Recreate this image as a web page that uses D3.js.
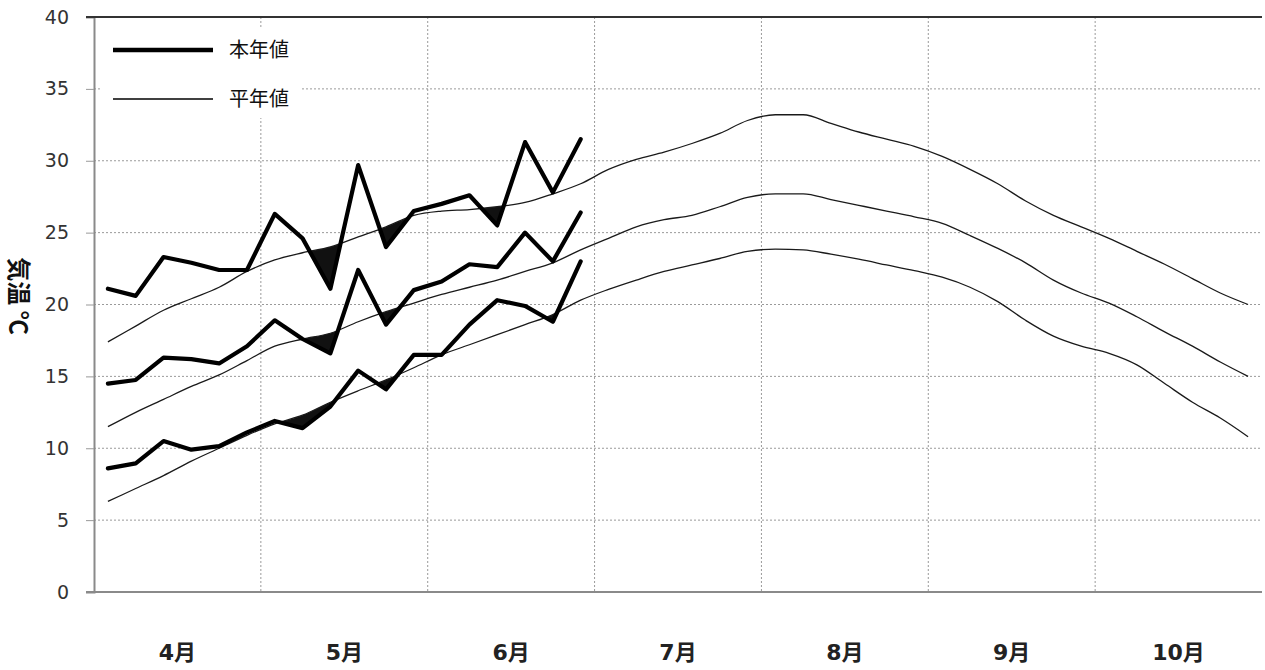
<!DOCTYPE html>
<html>
<head>
<meta charset="utf-8">
<script src="https://cdn.jsdelivr.net/npm/d3@7"></script>
<style>
    html, body { margin: 0; padding: 0; background: #fff; }
    svg { display: block; }
    .tick-label { font-family: "DejaVu Sans", "Noto Sans CJK JP", sans-serif; font-size: 19px; fill: #333; }
    .month-label { font-family: "DejaVu Sans", "Noto Sans CJK JP", sans-serif; font-size: 22px; font-weight: bold; fill: #222; }
    .axis-title { font-family: "Noto Sans CJK JP", sans-serif; font-size: 24px; font-weight: bold; fill: #111; }
    .legend-label { font-family: "Noto Sans CJK JP", sans-serif; font-size: 20px; fill: #111; }
</style>
</head>
<body>
<div id="chart"></div>
<script>
// months on the x axis, each split into six 5-day periods
var months = ['4月', '5月', '6月', '7月', '8月', '9月', '10月'];
var periodsPerMonth = 6;
var yTicks = [0, 5, 10, 15, 20, 25, 30, 35, 40];

// this year (Apr - Jun)
var maxThisYear = [21.1, 20.6, 23.3, 22.9, 22.4, 22.4, 26.3, 24.6, 21.1, 29.7, 24.0, 26.5, 27.0, 27.6, 25.5, 31.3, 27.8, 31.5];
var meanThisYear = [14.5, 14.75, 16.3, 16.2, 15.9, 17.1, 18.9, 17.6, 16.6, 22.4, 18.6, 21.0, 21.6, 22.8, 22.6, 25.0, 23.0, 26.4];
var minThisYear = [8.6, 8.95, 10.5, 9.9, 10.15, 11.1, 11.9, 11.4, 12.9, 15.4, 14.1, 16.5, 16.5, 18.6, 20.3, 19.9, 18.8, 23.0];

// normals (Apr - Oct)
var maxNormal = [17.4, 18.5, 19.6, 20.4, 21.2, 22.3, 23.1, 23.6, 24.0, 24.7, 25.4, 26.2, 26.5, 26.6, 26.8, 27.1, 27.7, 28.4,
    29.4, 30.1, 30.6, 31.2, 31.9, 32.8, 33.2, 33.2, 32.6, 32.0, 31.5, 31.0, 30.3, 29.4, 28.4, 27.2, 26.2, 25.4, 24.6, 23.7, 22.8, 21.8, 20.8, 20.0];
var meanNormal = [11.5, 12.5, 13.4, 14.3, 15.1, 16.1, 17.1, 17.6, 18.0, 18.8, 19.5, 20.1, 20.7, 21.2, 21.7, 22.3, 22.9, 23.8,
    24.6, 25.4, 25.9, 26.2, 26.8, 27.45, 27.7, 27.7, 27.3, 26.9, 26.5, 26.1, 25.65, 24.8, 23.9, 22.9, 21.7, 20.8, 20.1, 19.15, 18.1, 17.1, 16.0, 15.0];
var minNormal = [6.3, 7.2, 8.1, 9.1, 10.0, 10.9, 11.7, 12.3, 13.2, 14.0, 14.75, 15.6, 16.5, 17.2, 17.9, 18.6, 19.3, 20.3,
    21.05, 21.7, 22.3, 22.75, 23.2, 23.7, 23.85, 23.8, 23.5, 23.15, 22.75, 22.35, 21.9, 21.2, 20.2, 18.9, 17.8, 17.1, 16.6, 15.8, 14.5, 13.2, 12.1, 10.8];

var legendItems = ['本年値', '平年値'];

var width = 1265, height = 670;
var margin = { top: 17, right: 3, bottom: 78, left: 94 };

var svg = d3.select('#chart').append('svg')
    .attr('width', width)
    .attr('height', height);

var nPeriods = months.length * periodsPerMonth;
var x = d3.scaleLinear().domain([0, nPeriods]).range([margin.left, width - margin.right]);
var y = d3.scaleLinear().domain([0, 40]).range([height - margin.bottom, margin.top]);

// grid
var grid = svg.append('g');
grid.selectAll('.hgrid')
    .data(yTicks.filter(function (t) { return t > 0 && t < 40; }))
    .join('line')
    .attr('x1', x(0)).attr('x2', x(nPeriods))
    .attr('y1', function (d) { return y(d); })
    .attr('y2', function (d) { return y(d); })
    .attr('stroke', '#9a9a9a').attr('stroke-width', 1).attr('stroke-dasharray', '2,2');
grid.selectAll('.vgrid')
    .data(d3.range(1, months.length))
    .join('line')
    .attr('x1', function (d) { return x(d * periodsPerMonth); })
    .attr('x2', function (d) { return x(d * periodsPerMonth); })
    .attr('y1', y(40)).attr('y2', y(0))
    .attr('stroke', '#9a9a9a').attr('stroke-width', 1).attr('stroke-dasharray', '2,2');

// axes
var yAxis = svg.append('g')
    .attr('transform', 'translate(' + x(0) + ',0)')
    .call(d3.axisLeft(y).tickValues(yTicks).tickSize(8).tickPadding(17));
yAxis.select('.domain').attr('stroke', '#8a8a8a').attr('stroke-width', 2);
yAxis.selectAll('.tick line').attr('stroke', '#999');
yAxis.selectAll('.tick text').attr('class', 'tick-label').attr('font-family', null).attr('font-size', null);

svg.append('line')
    .attr('x1', x(0) - 8).attr('x2', x(nPeriods))
    .attr('y1', y(0)).attr('y2', y(0))
    .attr('stroke', '#8a8a8a').attr('stroke-width', 2);
svg.append('line')
    .attr('x1', x(0) - 8).attr('x2', x(nPeriods))
    .attr('y1', y(40)).attr('y2', y(40))
    .attr('stroke', '#333').attr('stroke-width', 2);

svg.append('g').selectAll('text')
    .data(months)
    .join('text')
    .attr('class', 'month-label')
    .attr('text-anchor', 'middle')
    .attr('x', function (d, i) { return x((i + 0.5) * periodsPerMonth); })
    .attr('y', 660)
    .text(function (d) { return d; });

svg.append('text')
    .attr('class', 'axis-title')
    .attr('text-anchor', 'middle')
    .attr('transform', 'translate(10,296) rotate(90)')
    .text('気温 ℃');

// lines
var px = function (d, i) { return x(i + 0.5); };
var normalLine = d3.line().x(px).y(function (d) { return y(d); }).curve(d3.curveMonotoneX);
var actualLine = d3.line().x(px).y(function (d) { return y(d); });

var pairs = [
    { id: 'max', actual: maxThisYear, normal: maxNormal },
    { id: 'mean', actual: meanThisYear, normal: meanNormal },
    { id: 'min', actual: minThisYear, normal: minNormal }
];

// fill where this year is below normal
var defs = svg.append('defs');
pairs.forEach(function (p) {
    defs.append('clipPath').attr('id', 'below-' + p.id)
        .append('path')
        .attr('d', d3.area().x(px).y0(y(0)).y1(function (d) { return y(d); }).curve(d3.curveMonotoneX)(p.normal));
    svg.append('path')
        .attr('clip-path', 'url(#below-' + p.id + ')')
        .attr('d', d3.area().x(px).y0(y(40)).y1(function (d) { return y(d); })(p.actual))
        .attr('fill', '#111');
});

pairs.forEach(function (p) {
    svg.append('path')
        .attr('d', normalLine(p.normal))
        .attr('fill', 'none').attr('stroke', '#1a1a1a').attr('stroke-width', 1.3);
});
pairs.forEach(function (p) {
    svg.append('path')
        .attr('d', actualLine(p.actual))
        .attr('fill', 'none').attr('stroke', '#000').attr('stroke-width', 4.2)
        .attr('stroke-linejoin', 'round').attr('stroke-linecap', 'round');
});

// legend
var legend = svg.append('g');
legend.append('rect')
    .attr('x', 100).attr('y', 28).attr('width', 200).attr('height', 90)
    .attr('fill', '#fff');
var li = legend.selectAll('g.item')
    .data(legendItems)
    .join('g')
    .attr('transform', function (d, i) { return 'translate(113,' + (50 + i * 49) + ')'; });
li.append('line')
    .attr('x1', 0).attr('x2', 100)
    .attr('stroke', '#000')
    .attr('stroke-width', function (d, i) { return i === 0 ? 4.5 : 1.3; });
li.append('text')
    .attr('class', 'legend-label')
    .attr('x', 116).attr('dy', '0.35em')
    .text(function (d) { return d; });
</script>
</body>
</html>
